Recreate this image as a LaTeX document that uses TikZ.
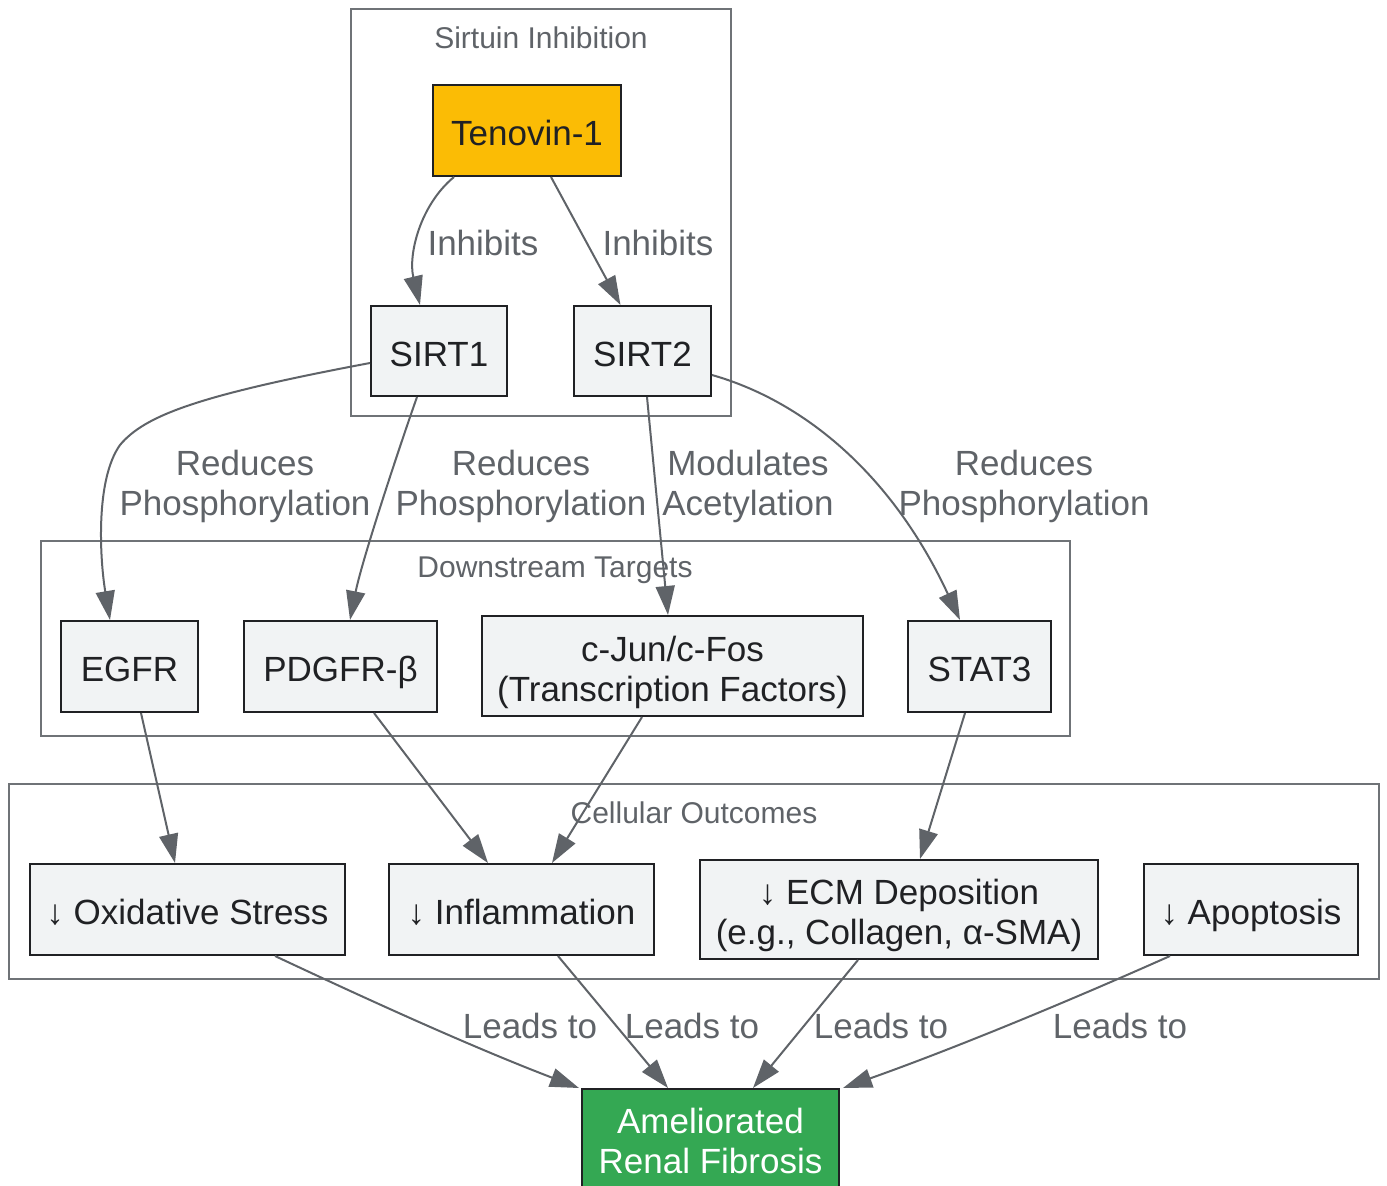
\documentclass[tikz,border=0pt]{standalone}
\usepackage{fontspec}
\setmainfont{Liberation Sans}
\usetikzlibrary{arrows.meta}

\definecolor{boxfill}{HTML}{F1F3F4}
\definecolor{boxline}{HTML}{202124}
\definecolor{linkgray}{HTML}{5F6368}
\definecolor{drugyellow}{HTML}{FBBC05}
\definecolor{outgreen}{HTML}{34A853}

\tikzset{
    box/.style={draw=boxline, line width=2pt, fill=boxfill, text=boxline, align=center,
        inner sep=0pt, text height=30pt, text depth=0pt, font=\fontsize{35}{40}\selectfont},
    twoline/.style={text height=70pt},
    cluster/.style={draw=linkgray!90, line width=2pt},
    clustertitle/.style={text=linkgray, font=\fontsize{30}{36}\selectfont},
    lbl/.style={text=linkgray, align=center, font=\fontsize{35}{40}\selectfont},
    link/.style={draw=linkgray, line width=2pt, -{Triangle[length=29pt,width=19pt]}}
}

\begin{document}
\begin{tikzpicture}[x=1pt, y=-1pt]
    \useasboundingbox (0,0) rectangle (1387,1186);
    \clip (0,0) rectangle (1387,1186);

    % subgraphs
    \draw[cluster] (351,9) rectangle (731,416);
    \draw[cluster] (41,541) rectangle (1070,736);
    \draw[cluster] (9,784) rectangle (1379,979);
    \node[clustertitle] (tsirt) at (541,38) {Sirtuin Inhibition};
    \node[clustertitle] (tdown) at (555,570) {Downstream Targets};
    \node[clustertitle] (tcell) at (694,813) {Cellular Outcomes};

    % nodes
    \node[box, fill=drugyellow, minimum width=188pt, minimum height=91pt] (teno) at (527,130.5) {Tenovin-1};
    \node[box, minimum width=136pt, minimum height=90pt] (sirt1) at (439,351) {SIRT1};
    \node[box, minimum width=137pt, minimum height=90pt] (sirt2) at (642.5,351) {SIRT2};

    \node[box, minimum width=137pt, minimum height=91pt] (egfr) at (129.5,666.5) {EGFR};
    \node[box, minimum width=193pt, minimum height=91pt] (pdgfr) at (340.5,666.5) {PDGFR-β};
    \node[box, twoline, minimum width=381pt, minimum height=100pt] (cjun) at (672.5,666) {c-Jun/c-Fos\\(Transcription Factors)};
    \node[box, minimum width=143pt, minimum height=91pt] (stat) at (979.5,666.5) {STAT3};

    \node[box, minimum width=315pt, minimum height=91pt] (oxid) at (187.5,909.5) {↓ Oxidative Stress};
    \node[box, minimum width=265pt, minimum height=91pt] (infl) at (521.5,909.5) {↓ Inflammation};
    \node[box, twoline, minimum width=398pt, minimum height=99pt] (ecm) at (899,909.5) {↓ ECM Deposition\\(e.g., Collagen, α-SMA)};
    \node[box, minimum width=214pt, minimum height=91pt] (apop) at (1251,909.5) {↓ Apoptosis};

    \node[box, twoline, fill=outgreen, text=white, minimum width=257pt, minimum height=98pt] (renal) at (710.5,1138) {Ameliorated\\Renal Fibrosis};

    % edge labels
    \node[lbl] (l1) at (483,243) {Inhibits};
    \node[lbl] (l2) at (658,243) {Inhibits};
    \node[lbl] (l3) at (245,486) {Reduces\\Phosphorylation};
    \node[lbl] (l4) at (521,486) {Reduces\\Phosphorylation};
    \node[lbl] (l5) at (748,486) {Modulates\\Acetylation};
    \node[lbl] (l6) at (1024,486) {Reduces\\Phosphorylation};
    \node[lbl] (l7) at (530,1026) {Leads to};
    \node[lbl] (l8) at (692,1026) {Leads to};
    \node[lbl] (l9) at (881,1026) {Leads to};
    \node[lbl] (l10) at (1120,1026) {Leads to};

    % connectors
    \draw[link] ([xshift=22pt]teno.south west) .. controls (420,205) and (408,255) .. ([xshift=-19pt]sirt1.north);
    \draw[link] ([xshift=24pt]teno.south) -- ([xshift=-22pt]sirt2.north);

    \draw[link] ([yshift=-12pt]sirt1.west) .. controls (200,395) and (145,415) .. (120,445)
        .. controls (95,480) and (100,560) .. ([xshift=-19.5pt]egfr.north);
    \draw[link] ([xshift=-22pt]sirt1.south) .. controls (400,445) and (362,560) .. ([xshift=9.5pt]pdgfr.north);
    \draw[link] ([xshift=4.5pt]sirt2.south) -- ([xshift=-4.5pt]cjun.north);
    \draw[link] ([yshift=-24pt]sirt2.east) .. controls (800,400) and (890,470) .. ([xshift=-19.5pt]stat.north);

    \draw[link] ([xshift=11.5pt]egfr.south) -- ([xshift=-12.5pt]oxid.north);
    \draw[link] ([xshift=33.5pt]pdgfr.south) -- ([xshift=-33.5pt]infl.north);
    \draw[link] ([xshift=-30.5pt]cjun.south) -- ([xshift=30.5pt]infl.north);
    \draw[link] ([xshift=-14.5pt]stat.south) -- ([xshift=21pt]ecm.north);

    \draw[link] ([xshift=87.5pt]oxid.south) .. controls (390,1010) and (480,1050) .. ([xshift=-2pt]renal.north west);
    \draw[link] ([xshift=36.5pt]infl.south) -- ([xshift=-42.5pt]renal.north);
    \draw[link] ([xshift=-41pt]ecm.south) -- ([xshift=42.5pt]renal.north);
    \draw[link] ([xshift=-81pt]apop.south) .. controls (1060,1005) and (950,1050) .. ([xshift=3pt]renal.north east);
\end{tikzpicture}
\end{document}
